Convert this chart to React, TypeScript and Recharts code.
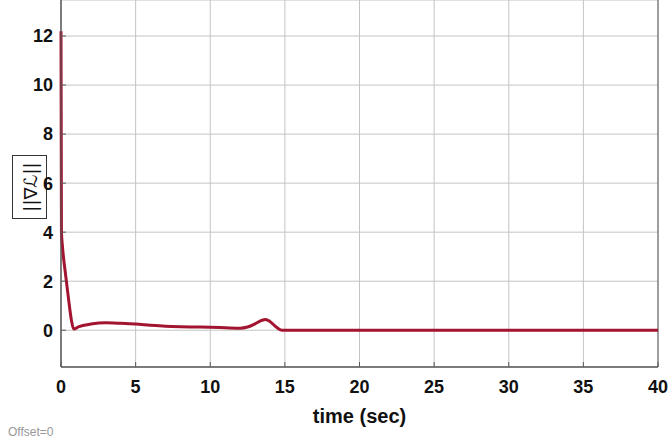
import React from 'react';
import { LineChart, Line, XAxis, YAxis, CartesianGrid, ReferenceLine } from 'recharts';

// time samples (sec) and gradient norm
const times = [0, 0.03, 0.1, 0.3, 0.5, 0.7, 0.85, 1.2, 2, 3, 4, 5, 6, 7, 8, 9, 10, 11, 12, 12.5, 13, 13.4, 13.7, 14.0, 14.4, 14.8, 15, 20, 25, 30, 35, 40];
const gradNorm = [12.2, 4.0, 3.4, 2.3, 1.3, 0.4, 0.05, 0.15, 0.25, 0.3, 0.28, 0.25, 0.2, 0.16, 0.14, 0.13, 0.12, 0.1, 0.08, 0.13, 0.26, 0.39, 0.44, 0.36, 0.14, 0, 0, 0, 0, 0, 0, 0];

const xTicks = [0, 5, 10, 15, 20, 25, 30, 35, 40];
const yTicks = [0, 2, 4, 6, 8, 10, 12];

const data = times.map((t, i) => ({ t, g: gradNorm[i] }));

const tickFont = { fill: '#111', fontSize: 18, fontWeight: 700, fontFamily: '"Liberation Sans", Arial, sans-serif' };

const App: React.FC = () => {
  return (
    <div style={{ position: 'absolute', left: 0, top: 0, width: 670, height: 448, background: '#fff' }}>
      <LineChart width={670} height={448} data={data} margin={{ top: 0, right: 12, left: 0, bottom: 0 }}>
        <CartesianGrid stroke="#c4c4c4" />
        <XAxis
          dataKey="t"
          type="number"
          domain={[0, 40]}
          ticks={xTicks}
          height={81}
          stroke="#5a5a5a"
          tickSize={-5}
          tickMargin={18}
          tick={tickFont}
          label={{
            value: 'time (sec)',
            position: 'insideTop',
            offset: 42,
            style: { fill: '#111', fontSize: 20, fontWeight: 700, fontFamily: '"Liberation Sans", Arial, sans-serif' },
          }}
        />
        <XAxis xAxisId="top" orientation="top" dataKey="t" type="number" domain={[0, 40]} ticks={xTicks} height={0} axisLine={false} mirror tickSize={5} stroke="#5a5a5a" tick={() => <g />} />
        <YAxis
          type="number"
          domain={[-1.5, 13.47]}
          ticks={yTicks}
          width={61}
          stroke="#5a5a5a"
          tickSize={-5}
          tickMargin={13}
          tick={tickFont}
          label={{
            content: () => (
              <g>
                <rect x={12.5} y={155.5} width={34} height={63} fill="#fff" stroke="#333" strokeWidth={1} />
                <text
                  x={30}
                  y={187}
                  transform="rotate(-90 30 187)"
                  textAnchor="middle"
                  dominantBaseline="central"
                  fontSize={18}
                  fontFamily='"DejaVu Sans", sans-serif'
                  fill="#111"
                >
                  ||∇ℒ||
                </text>
              </g>
            ),
          }}
        />
        <YAxis yAxisId="r" orientation="right" type="number" domain={[-1.5, 13.47]} ticks={yTicks} width={0} mirror tickSize={5} stroke="#5a5a5a" tick={() => <g />} />
        <ReferenceLine x={40} stroke="#5a5a5a" />
        <ReferenceLine x={0} stroke="#5a5a5a" />
        <ReferenceLine y={-1.5} stroke="#5a5a5a" />
        <Line type="monotone" dataKey="g" stroke="#a2142f" strokeWidth={3} dot={false} isAnimationActive={false} />
      </LineChart>
      <div style={{ position: 'absolute', left: 8, top: 425, fontSize: 12, color: '#999', fontFamily: '"Liberation Sans", Arial, sans-serif' }}>
        Offset=0
      </div>
    </div>
  );
};

export default App;
